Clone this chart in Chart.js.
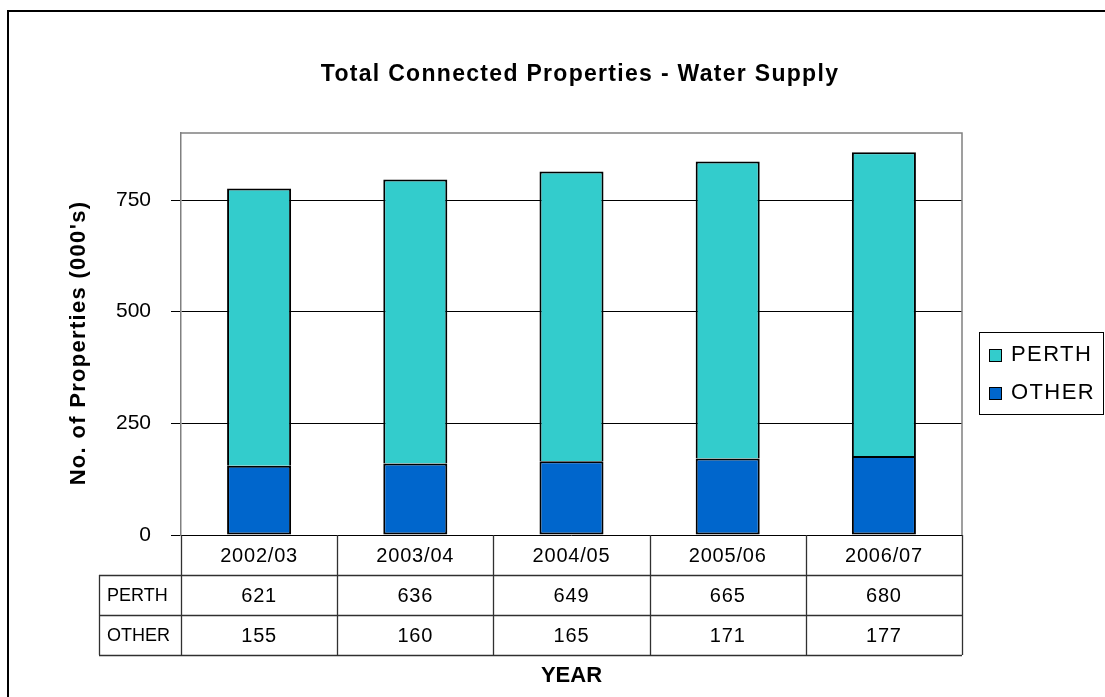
<!DOCTYPE html>
<html>
<head>
<meta charset="utf-8">
<script src="https://cdn.jsdelivr.net/npm/chart.js@4/dist/chart.umd.min.js"></script>
<style>
html,body{margin:0;padding:0;background:#fff;}
canvas{display:block;}
</style>
</head>
<body>
<canvas id="c" width="1105" height="697"></canvas>
<script>
const categories = ['2002/03', '2003/04', '2004/05', '2005/06', '2006/07'];
const perthValues = [621, 636, 649, 665, 680];
const otherValues = [155, 160, 165, 171, 177];
const yTickValues = [0, 250, 500, 750];
const titleText = 'Total Connected Properties - Water Supply';
const yAxisTitle = "No. of Properties (000's)";
const xAxisTitle = 'YEAR';

const FONT = '"Liberation Sans", Arial, sans-serif';
const PERTH_COLOR = '#33CCCC';
const OTHER_COLOR = '#0066CC';

const decorPlugin = {
  id: 'decor',
  beforeDatasetsDraw(chart) {
    const ctx = chart.ctx, a = chart.chartArea;
    ctx.save();
    ctx.strokeStyle = '#808080';
    ctx.lineWidth = 1.5;
    ctx.beginPath();
    ctx.moveTo(a.left, a.top);
    ctx.lineTo(a.right, a.top);
    ctx.lineTo(a.right, a.bottom);
    ctx.stroke();
    ctx.restore();
  },
  afterDraw(chart) {
    const ctx = chart.ctx, a = chart.chartArea, xs = chart.scales.x;
    ctx.save();
    // outer frame
    ctx.strokeStyle = '#000';
    ctx.lineWidth = 2;
    ctx.beginPath();
    ctx.moveTo(8, 700);
    ctx.lineTo(8, 11);
    ctx.lineTo(1110, 11);
    ctx.stroke();

    // title
    ctx.fillStyle = '#000';
    ctx.font = 'bold 23px ' + FONT;
    ctx.letterSpacing = '1.3px';
    ctx.textAlign = 'center';
    ctx.textBaseline = 'middle';
    ctx.fillText(titleText, 580, 75);

    // y axis title
    ctx.save();
    ctx.translate(79, 343);
    ctx.rotate(-Math.PI / 2);
    ctx.font = 'bold 22px ' + FONT;
    ctx.letterSpacing = '1.3px';
    ctx.fillText(yAxisTitle, 0, 0);
    ctx.restore();

    // x axis title
    ctx.font = 'bold 22px ' + FONT;
    ctx.letterSpacing = '0px';
    ctx.fillText(xAxisTitle, (a.left + a.right) / 2, 676);

    // data table
    const n = categories.length;
    const cw = (xs.right - xs.left) / n;
    const rowH = 40;
    const top = a.bottom, r1 = top + rowH, r2 = r1 + rowH, r3 = r2 + rowH;
    const labelLeft = 99;
    ctx.strokeStyle = '#303030';
    ctx.lineWidth = 1.3;
    ctx.beginPath();
    for (let i = 0; i <= n; i++) {
      const x = Math.round(xs.left + i * cw) + 0.5;
      ctx.moveTo(x, top);
      ctx.lineTo(x, r3);
    }
    ctx.moveTo(labelLeft + 0.5, r1);
    ctx.lineTo(labelLeft + 0.5, r3);
    [r1, r2, r3].forEach(y => {
      ctx.moveTo(labelLeft, y + 0.5);
      ctx.lineTo(xs.right, y + 0.5);
    });
    ctx.stroke();

    ctx.fillStyle = '#000';
    ctx.font = '20px ' + FONT;
    ctx.letterSpacing = '0.8px';
    ctx.textAlign = 'center';
    for (let i = 0; i < n; i++) {
      const cx = xs.getPixelForValue(i);
      ctx.fillText(categories[i], cx, top + rowH / 2 + 1);
      ctx.fillText(String(perthValues[i]), cx, r1 + rowH / 2 + 1);
      ctx.fillText(String(otherValues[i]), cx, r2 + rowH / 2 + 1);
    }
    ctx.textAlign = 'left';
    ctx.font = '18px ' + FONT;
    ctx.letterSpacing = '0px';
    ctx.fillText('PERTH', 107, r1 + rowH / 2 + 1);
    ctx.fillText('OTHER', 107, r2 + rowH / 2 + 1);

    // legend
    ctx.strokeStyle = '#000';
    ctx.lineWidth = 1;
    ctx.strokeRect(979.5, 332.5, 124, 82);
    const items = [['PERTH', PERTH_COLOR, 355], ['OTHER', OTHER_COLOR, 393]];
    ctx.font = '22px ' + FONT;
    ctx.letterSpacing = '1.4px';
    items.forEach(([t, c, y]) => {
      ctx.fillStyle = c;
      ctx.fillRect(989, y - 6, 12, 12);
      ctx.strokeRect(989.5, y - 5.5, 12, 12);
      ctx.fillStyle = '#000';
      ctx.fillText(t, 1011, y);
    });
    ctx.restore();
  }
};

new Chart(document.getElementById('c'), {
  type: 'bar',
  data: {
    labels: categories,
    datasets: [
      { label: 'OTHER', data: otherValues, backgroundColor: OTHER_COLOR, borderColor: '#000', borderWidth: 2, borderSkipped: false },
      { label: 'PERTH', data: perthValues, backgroundColor: PERTH_COLOR, borderColor: '#000', borderWidth: 2, borderSkipped: 'start' }
    ]
  },
  options: {
    responsive: false,
    animation: false,
    devicePixelRatio: 1,
    layout: { padding: { left: 0, top: 133, right: 143, bottom: 162 } },
    plugins: { legend: { display: false }, title: { display: false }, tooltip: { enabled: false } },
    datasets: { bar: { barPercentage: 0.41, categoryPercentage: 1 } },
    scales: {
      x: { stacked: true, display: false },
      y: {
        stacked: true,
        min: 0, max: 900,
        afterFit(s) { s.width = 181; },
        afterBuildTicks(s) { s.ticks = yTickValues.map(v => ({ value: v })); },
        ticks: { color: '#000', padding: 20, font: { family: FONT, size: 21 } },
        grid: { color: '#000', lineWidth: 1, tickLength: 10, drawTicks: true },
        border: { color: '#808080', width: 1.5 }
      }
    }
  },
  plugins: [decorPlugin]
});
</script>
</body>
</html>
